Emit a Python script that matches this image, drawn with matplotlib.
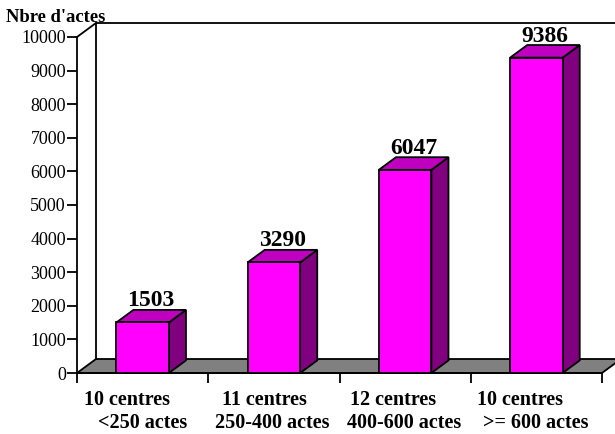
import matplotlib
matplotlib.use("Agg")
import matplotlib.pyplot as plt
from matplotlib.patches import Polygon

# Data
groups_line1 = ["10 centres", "11 centres", "12 centres", "10 centres"]
groups_line2 = ["<250 actes", "250-400 actes", "400-600 actes", ">= 600 actes"]
actes = [1503, 3290, 6047, 9386]
y_ticks = list(range(0, 10001, 1000))
y_title = "Nbre d'actes"

# Styling / layout
FRONT = "#FF00FF"
TOP = "#C000C0"
SIDE = "#800080"
FLOOR = "#808080"
SERIF = "Liberation Serif"
line1_shift_pt = [-11.5, -6.5, -9.0, -12.0]
line2_shift_pt = [0.0, -1.0, -0.5, -0.5]

W, H, DPI = 615, 434, 100
fig = plt.figure(figsize=(W / DPI, H / DPI), dpi=DPI)
ax_l, ax_r, ax_t, ax_b = 77, 602, 37, 373
ax = fig.add_axes([ax_l / W, 1 - ax_b / H, (ax_r - ax_l) / W, (ax_b - ax_t) / H])
n = len(actes)
ymax = y_ticks[-1]
ax.set_xlim(0, n)
ax.set_ylim(0, ymax)

# depth of the 3D box, converted from pixels to data units
px_x = (ax_r - ax_l) / n
px_y = (ax_b - ax_t) / ymax
ddx, ddy = 19 / px_x, 14 / px_y
bdx, bdy = 0.9 * ddx, 0.9 * ddy

lw = 1.3
# floor
ax.add_patch(Polygon([(0, 0), (n, 0), (n + ddx, ddy), (ddx, ddy)], closed=True,
                     facecolor=FLOOR, edgecolor="black", lw=lw, clip_on=False, zorder=1))
# back wall and left wall edges
ax.plot([ddx, ddx, n + ddx], [ddy, ymax + ddy, ymax + ddy], color="black", lw=lw,
        clip_on=False, zorder=1)
ax.plot([0, ddx], [ymax, ymax + ddy], color="black", lw=lw, clip_on=False, zorder=1)

# bars
bw = 0.4
for i, v in enumerate(actes):
    c = i + 0.5
    x0, x1 = c - bw / 2, c + bw / 2
    ax.add_patch(Polygon([(x1, 0), (x1 + bdx, bdy), (x1 + bdx, v + bdy), (x1, v)],
                         closed=True, facecolor=SIDE, edgecolor="black", lw=lw,
                         clip_on=False, zorder=3))
    ax.add_patch(Polygon([(x0, v), (x1, v), (x1 + bdx, v + bdy), (x0 + bdx, v + bdy)],
                         closed=True, facecolor=TOP, edgecolor="black", lw=lw,
                         clip_on=False, zorder=3))
    ax.add_patch(Polygon([(x0, 0), (x1, 0), (x1, v), (x0, v)],
                         closed=True, facecolor=FRONT, edgecolor="black", lw=lw,
                         clip_on=False, zorder=4))
    ax.annotate(f"{v}", xy=(c + bdx / 2, v + bdy), xytext=(0, 2.5),
                textcoords="offset points", ha="center", va="baseline",
                fontsize=17, fontweight="bold", family=SERIF, zorder=5,
                annotation_clip=False)
    ax.annotate(groups_line1[i], xy=(c, 0), xytext=(line1_shift_pt[i], -23),
                textcoords="offset points", ha="center", va="baseline",
                fontsize=14.5, fontweight="bold", family=SERIF, annotation_clip=False)
    ax.annotate(groups_line2[i], xy=(c, 0), xytext=(line2_shift_pt[i], -39.5),
                textcoords="offset points", ha="center", va="baseline",
                fontsize=14.5, fontweight="bold", family=SERIF, annotation_clip=False)

# axes
for s in ["top", "right"]:
    ax.spines[s].set_visible(False)
for s in ["left", "bottom"]:
    ax.spines[s].set_linewidth(lw)
    ax.spines[s].set_zorder(2)
ax.set_yticks(y_ticks)
ax.set_yticklabels([str(t) for t in y_ticks], family=SERIF, fontsize=13)
ax.set_xticks(range(n + 1))
ax.set_xticklabels([])
ax.tick_params(axis="both", direction="out", length=7, width=lw, pad=1)
ax.patch.set_visible(False)

fig.text(56 / W, 1 - 22 / H, y_title, ha="center", va="baseline",
         fontsize=13.4, fontweight="bold", family=SERIF)

fig.savefig("out.png", dpi=DPI, facecolor="white")
